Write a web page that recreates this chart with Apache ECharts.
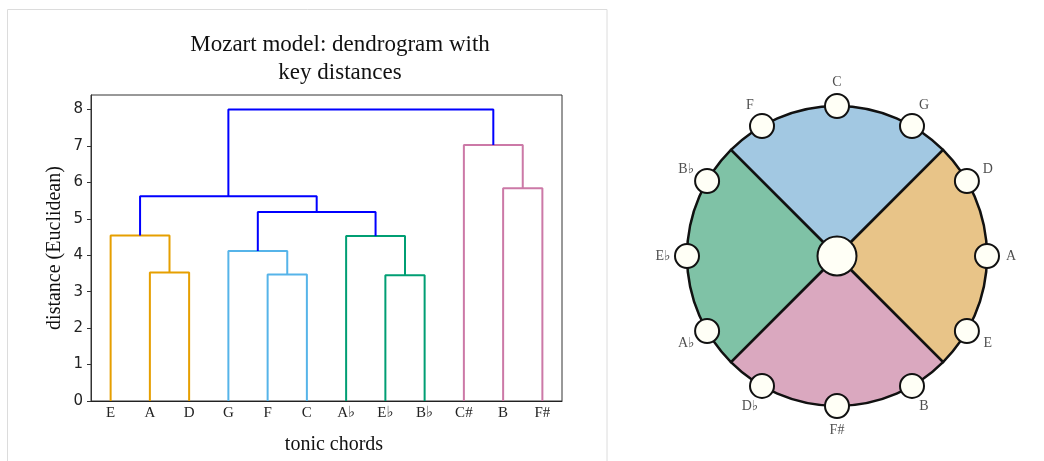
<!DOCTYPE html>
<html lang="en">

<head>
  <meta charset="UTF-8" />
  <title>Mozart model</title>
  <script src="https://cdn.jsdelivr.net/npm/echarts@6/dist/echarts.min.js"></script>
  <style>
    body { margin: 0; background: #fff; }
  </style>
</head>

<body>
  <div id="main" style="width: 1044px;height:461px;"></div>
  <script type="text/javascript">
    // leaves of the dendrogram, left to right
    const leaves = ['E', 'A', 'D', 'G', 'F', 'C', 'A\u266d', 'E\u266d', 'B\u266d', 'C#', 'B', 'F#']
    // merges (scipy style: node 12 is the first merge, 13 the second ...)
    const mergeLeft = [1, 0, 4, 3, 7, 6, 10, 9, 15, 13, 21]
    const mergeRight = [2, 12, 5, 14, 8, 16, 11, 18, 17, 20, 19]
    const mergeHeights = [3.53, 4.54, 3.47, 4.12, 3.45, 4.53, 5.84, 7.03, 5.19, 5.62, 8.0]
    const mergeGroups = ['orange', 'orange', 'sky', 'sky', 'green', 'green', 'pink', 'pink', 'link', 'link', 'link']
    const yTicks = [0, 1, 2, 3, 4, 5, 6, 7, 8]

    // circle of fifths, clockwise from the top
    const circleKeys = ['C', 'G', 'D', 'A', 'E', 'B', 'F#', 'D\u266d', 'A\u266d', 'E\u266d', 'B\u266d', 'F']
    const quadrants = ['top', 'right', 'bottom', 'left']
    const quadrantValues = [3, 3, 3, 3]

    const groupColors = { orange: '#E69F00', sky: '#56B4E9', green: '#009E73', pink: '#CC79A7', link: '#0000FF' }
    const quadrantColors = ['#A2C8E2', '#E8C488', '#DAA8BF', '#7FC2A6']

    const serif = '"Liberation Serif", "DejaVu Serif", serif'

    // x of every node: leaves at their index, merges at the middle of their children
    const nodeX = leaves.map((_, i) => i)
    const nodeH = leaves.map(() => 0)
    const linkSeries = []
    mergeHeights.forEach((h, k) => {
      const a = mergeLeft[k], b = mergeRight[k]
      linkSeries.push({
        type: 'line',
        xAxisIndex: 0,
        yAxisIndex: 0,
        data: [[nodeX[a], nodeH[a]], [nodeX[a], h], [nodeX[b], h], [nodeX[b], nodeH[b]]],
        symbol: 'none',
        silent: true,
        lineStyle: { color: groupColors[mergeGroups[k]], width: 2 }
      })
      nodeX.push((nodeX[a] + nodeX[b]) / 2)
      nodeH.push(h)
    })

    const ringR = 150
    const labelR = 174
    const ivory = '#FFFFF6'

    var myChart = echarts.init(document.getElementById('main'))
    const option = {
      animation: false,
      graphic: [
        { type: 'rect', shape: { x: 7.5, y: 9.5, width: 599.5, height: 480 }, style: { fill: 'none', stroke: '#dcdcdc', lineWidth: 1 }, silent: true },
        { type: 'text', x: 340, y: 45, style: { text: 'Mozart model: dendrogram with', font: '23px ' + serif, fill: '#111', align: 'center', verticalAlign: 'middle' } },
        { type: 'text', x: 340, y: 73, style: { text: 'key distances', font: '23px ' + serif, fill: '#111', align: 'center', verticalAlign: 'middle' } }
      ],
      grid: { left: 91, top: 95, width: 471, height: 306, show: true, borderColor: '#333', borderWidth: 1, containLabel: false },
      xAxis: [
        { type: 'value', min: -0.5, max: 11.5, show: false, position: 'top' },
        {
          type: 'category', data: leaves, boundaryGap: true, position: 'bottom',
          axisLine: { onZero: false, lineStyle: { color: '#222', width: 1 } },
          axisTick: { show: false },
          axisLabel: { color: '#222', fontFamily: serif, fontSize: 15, margin: 5 },
          name: 'tonic chords', nameLocation: 'middle', nameGap: 34,
          nameTextStyle: { color: '#111', fontFamily: serif, fontSize: 20, padding: [0, 0, 0, 15] }
        }
      ],
      yAxis: {
        type: 'value', min: 0, max: 8.4, interval: 1,
        splitLine: { show: false },
        axisLine: { show: true, onZero: false, lineStyle: { color: '#333' } },
        axisTick: { show: true, length: 4, customValues: yTicks, lineStyle: { color: '#333' } },
        axisLabel: { customValues: yTicks, color: '#222', fontFamily: 'DejaVu Sans', fontSize: 15, margin: 8 },
        name: 'distance (Euclidean)', nameLocation: 'middle', nameGap: 26,
        nameTextStyle: { color: '#111', fontFamily: serif, fontSize: 20 }
      },
      polar: { center: [837, 256], radius: labelR },
      angleAxis: { type: 'category', data: circleKeys, boundaryGap: false, startAngle: 90, clockwise: true, show: false },
      radiusAxis: { type: 'value', min: 0, max: labelR, show: false },
      series: linkSeries.concat([
        {
          type: 'pie',
          center: [837, 256],
          radius: [0, ringR],
          startAngle: 135,
          clockwise: true,
          silent: true,
          label: { show: false },
          labelLine: { show: false },
          data: quadrants.map((q, i) => ({ name: q, value: quadrantValues[i], itemStyle: { color: quadrantColors[i] } })),
          itemStyle: { borderColor: '#111', borderWidth: 2.5 }
        },
        {
          type: 'scatter',
          coordinateSystem: 'polar',
          silent: true,
          symbolSize: 24,
          itemStyle: { color: ivory, borderColor: '#111', borderWidth: 2, opacity: 1 },
          data: circleKeys.map((k, i) => ({ name: k, value: [ringR, i] }))
        },
        {
          type: 'scatter',
          coordinateSystem: 'polar',
          silent: true,
          symbolSize: 39,
          itemStyle: { color: ivory, borderColor: '#111', borderWidth: 2, opacity: 1 },
          data: [[0, 0]]
        },
        {
          type: 'scatter',
          coordinateSystem: 'polar',
          silent: true,
          symbolSize: 1,
          itemStyle: { color: 'rgba(0,0,0,0)' },
          label: { show: true, position: 'inside', formatter: '{b}', color: '#222', fontFamily: serif, fontSize: 14 },
          data: circleKeys.map((k, i) => ({ name: k, value: [labelR, i] }))
        }
      ])
    }
    myChart.setOption(option)
  </script>
</body>

</html>
